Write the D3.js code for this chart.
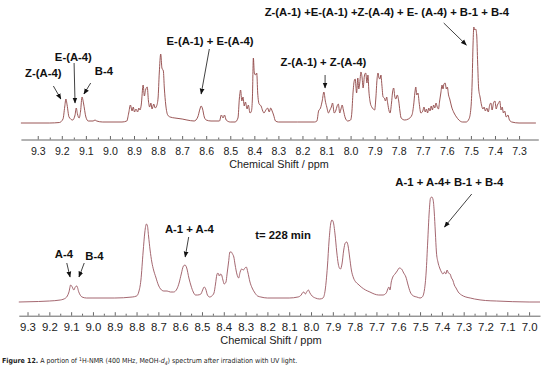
<!DOCTYPE html>
<html>
<head>
<meta charset="utf-8">
<script src="https://cdn.jsdelivr.net/npm/d3@7/dist/d3.min.js"></script>
<style>
body { margin: 0; background: #fff; }
svg { display: block; }
</style>
</head>
<body>
<svg id="svg"></svg>
<script>
var width = 544, height = 375;

// spectrum before: [ppm, intensity]
var topSpectrum = [
	[9.37,0],[9.25,0],[9.21,0.5],[9.195,4],[9.188,16],[9.183,24],[9.178,18],[9.17,6],[9.155,3],[9.145,8],[9.14,15],[9.135,9],
	[9.128,5],[9.122,12],[9.116,26],[9.11,20],[9.10,6],[9.09,2],[9.07,2],[9.062,3],[9.055,2],[9.03,1],[8.95,1],[8.93,2],
	[8.922,10],[8.915,18],[8.908,12],[8.903,16],[8.898,11],[8.892,14],[8.885,11],[8.88,15],[8.875,13],[8.87,18],[8.862,38],
	[8.857,27],[8.852,33],[8.845,36],[8.84,22],[8.835,16],[8.83,20],[8.825,14],[8.818,19],[8.812,15],[8.806,17],[8.80,25],
	[8.795,50],[8.789,69],[8.784,55],[8.778,52],[8.774,35],[8.768,18],[8.76,8],[8.75,6],[8.73,5],[8.70,4],[8.68,3],[8.65,2],
	[8.635,6],[8.626,14],[8.621,17],[8.615,14],[8.608,6],[8.60,3],[8.58,2],[8.545,2],[8.537,8],[8.53,5],[8.524,8],[8.517,3],
	[8.50,1],[8.48,1],[8.468,5],[8.462,25],[8.457,33],[8.452,22],[8.447,26],[8.442,17],[8.437,21],[8.43,14],[8.425,18],
	[8.418,10],[8.412,12],[8.408,25],[8.404,65],[8.40,50],[8.395,48],[8.39,50],[8.386,30],[8.38,19],[8.372,17],[8.365,12],
	[8.36,10],[8.352,13],[8.345,15],[8.338,11],[8.332,15],[8.326,12],[8.32,8],[8.312,2],[8.30,1],[8.22,1],[8.15,1],[8.14,2],
	[8.133,12],[8.125,15],[8.118,22],[8.111,31],[8.105,22],[8.099,16],[8.092,10],[8.086,13],[8.08,16],[8.075,20],[8.068,10],
	[8.062,12],[8.056,17],[8.051,19],[8.045,10],[8.04,14],[8.035,18],[8.03,13],[8.022,5],[8.012,2],[8.00,3],[7.995,10],
	[7.99,30],[7.985,42],[7.981,44],[7.975,30],[7.97,45],[7.966,34],[7.962,40],[7.957,51],[7.952,45],[7.948,35],[7.942,48],
	[7.937,50],[7.932,40],[7.928,48],[7.924,32],[7.918,20],[7.912,16],[7.906,14],[7.90,13],[7.895,25],[7.89,44],[7.886,50],
	[7.882,45],[7.878,44],[7.874,48],[7.87,38],[7.865,26],[7.86,25],[7.855,22],[7.85,26],[7.846,20],[7.84,12],[7.836,10],
	[7.83,20],[7.826,30],[7.821,35],[7.816,26],[7.812,24],[7.806,28],[7.80,22],[7.795,12],[7.79,5],[7.775,3],[7.76,4],
	[7.745,8],[7.738,18],[7.733,30],[7.729,36],[7.725,28],[7.72,30],[7.715,20],[7.708,10],[7.70,12],[7.695,16],[7.69,11],
	[7.685,14],[7.68,10],[7.675,15],[7.67,12],[7.665,17],[7.66,13],[7.655,18],[7.65,15],[7.645,20],[7.64,16],[7.635,14],
	[7.63,22],[7.625,30],[7.62,38],[7.616,34],[7.612,39],[7.607,40],[7.602,34],[7.598,36],[7.593,28],[7.588,24],[7.58,16],
	[7.57,10],[7.56,6],[7.55,3],[7.535,1],[7.52,1],[7.508,4],[7.50,15],[7.495,40],[7.491,80],[7.488,96],[7.484,93],
	[7.48,94],[7.476,88],[7.472,60],[7.468,35],[7.462,26],[7.456,18],[7.45,14],[7.445,16],[7.44,12],[7.434,15],[7.428,11],
	[7.422,18],[7.417,20],[7.412,13],[7.406,20],[7.40,22],[7.395,14],[7.39,18],[7.385,20],[7.38,22],[7.375,13],[7.37,16],
	[7.365,10],[7.36,12],[7.353,6],[7.346,8],[7.34,3],[7.33,1],[7.30,0],[7.23,0]
];

// spectrum after 228 min
var bottomSpectrum = [
	[9.34,0],[9.25,0.5],[9.2,1],[9.15,2],[9.125,4],[9.11,10],[9.102,17],[9.095,15],[9.088,12],[9.081,15],[9.074,16],[9.065,10],
	[9.05,5],[9.03,4],[9.0,4],[8.9,4],[8.82,5],[8.80,6],[8.79,10],[8.78,22],[8.77,50],[8.762,70],[8.755,78],[8.75,76],
	[8.745,66],[8.738,52],[8.73,40],[8.722,32],[8.712,25],[8.70,17],[8.69,13],[8.675,11],[8.66,11],[8.645,10],[8.63,10],
	[8.615,13],[8.605,19],[8.595,28],[8.585,36],[8.578,37],[8.57,34],[8.56,24],[8.55,16],[8.54,10],[8.53,7],[8.52,7],
	[8.505,8],[8.497,12],[8.49,15],[8.483,13],[8.475,7],[8.465,5],[8.455,6],[8.445,9],[8.438,18],[8.432,27],[8.427,29],
	[8.42,26],[8.415,28],[8.41,27],[8.404,22],[8.398,18],[8.39,20],[8.385,28],[8.378,40],[8.372,50],[8.366,50],[8.36,48],
	[8.354,45],[8.348,37],[8.34,28],[8.332,24],[8.325,30],[8.318,33],[8.31,32],[8.303,34],[8.297,35],[8.29,30],[8.28,20],
	[8.27,14],[8.26,10],[8.245,6],[8.23,5],[8.2,4],[8.1,4],[8.06,5],[8.045,7],[8.04,9],[8.033,10],[8.026,8],[8.02,10],
	[8.012,12],[8.005,9],[7.995,6],[7.98,4],[7.96,3],[7.945,4],[7.935,12],[7.925,35],[7.917,62],[7.91,78],[7.904,82],
	[7.898,80],[7.89,68],[7.882,50],[7.875,38],[7.87,34],[7.865,33],[7.858,38],[7.85,52],[7.843,59],[7.836,60],[7.83,56],
	[7.823,45],[7.815,32],[7.805,24],[7.795,20],[7.785,18],[7.77,15],[7.75,12],[7.73,10],[7.71,8],[7.69,7],[7.67,7],
	[7.655,9],[7.648,13],[7.643,15],[7.638,12],[7.632,20],[7.625,25],[7.615,28],[7.605,31],[7.595,34],[7.585,33],[7.575,29],
	[7.565,25],[7.555,17],[7.545,10],[7.53,6],[7.515,5],[7.5,4],[7.49,5],[7.48,12],[7.472,30],[7.465,60],[7.458,90],
	[7.452,104],[7.446,105],[7.44,102],[7.435,90],[7.43,70],[7.425,50],[7.418,40],[7.41,34],[7.402,30],[7.395,28],[7.388,30],
	[7.382,28],[7.376,32],[7.37,29],[7.362,28],[7.356,24],[7.35,22],[7.343,17],[7.335,14],[7.325,10],[7.31,7],[7.29,5],
	[7.27,4],[7.25,3],[7.2,1.5],[7.15,1],[7.0,0],[6.95,0]
];

var topTicks = [9.3, 9.2, 9.1, 9.0, 8.9, 8.8, 8.7, 8.6, 8.5, 8.4, 8.3, 8.2, 8.1, 8.0, 7.9, 7.8, 7.7, 7.6, 7.5, 7.4, 7.3];
var bottomTicks = [9.3, 9.2, 9.1, 9.0, 8.9, 8.8, 8.7, 8.6, 8.5, 8.4, 8.3, 8.2, 8.1, 8.0, 7.9, 7.8, 7.7, 7.6, 7.5, 7.4, 7.3, 7.2, 7.1, 7.0];

// annotations: label, text anchor [ppm, int], arrow from/to [ppm, int]
var topLabels = [
	{text: "Z-(A-4)", at: [9.277, 50], from: [9.235, 37], to: [9.204, 24]},
	{text: "E-(A-4)", at: [9.152, 66], from: [9.149, 60], to: [9.145, 20]},
	{text: "B-4", at: [9.025, 52], from: [9.080, 40], to: [9.108, 29]},
	{text: "E-(A-1) + E-(A-4)", at: [8.584, 82], from: [8.587, 74], to: [8.621, 29]},
	{text: "Z-(A-1) + Z-(A-4)", at: [8.113, 61], from: [8.106, 48], to: [8.106, 35]},
	{text: "Z-(A-1) +E-(A-1) +Z-(A-4) + E- (A-4) + B-1 + B-4", at: [7.849, 111], from: [7.613, 100], to: [7.519, 78]}
];
var bottomLabels = [
	{text: "A-4", at: [9.133, 48], from: [9.120, 39], to: [9.105, 25]},
	{text: "B-4", at: [8.993, 46], from: [9.040, 39], to: [9.064, 25]},
	{text: "A-1 + A-4", at: [8.558, 73], from: [8.561, 65], to: [8.577, 45]},
	{text: "t= 228 min", at: [8.128, 67]},
	{text: "A-1 + A-4+ B-1 + B-4", at: [7.366, 120], from: [7.263, 108], to: [7.388, 75]}
];

var svg = d3.select("#svg")
	.attr("width", width)
	.attr("height", height)
	.attr("font-family", "'Liberation Sans', Arial, sans-serif");

svg.append("rect").attr("width", width).attr("height", height).attr("fill", "#fff");

var defs = svg.append("defs");
defs.append("marker")
	.attr("id", "head")
	.attr("viewBox", "0 0 10 10")
	.attr("refX", 9).attr("refY", 5)
	.attr("markerWidth", 6).attr("markerHeight", 6)
	.attr("markerUnits", "userSpaceOnUse")
	.attr("orient", "auto")
	.append("path")
	.attr("d", "M0,1L10,5L0,9Z")
	.attr("fill", "#111");

function panel(cfg)
{
	var x = d3.scaleLinear().domain(cfg.xDomain).range(cfg.xRange);
	var y = d3.scaleLinear().domain([0, 100]).range(cfg.yRange);

	var line = d3.line()
		.x(function(d) { return x(d[0]); })
		.y(function(d) { return y(d[1]); })
		.curve(d3.curveMonotoneX);

	svg.append("path")
		.datum(cfg.data)
		.attr("d", line)
		.attr("fill", "none")
		.attr("stroke", cfg.color)
		.attr("stroke-width", 0.9);

	// minor ticks
	var minor = [];
	for (var i = 0; i < cfg.ticks.length - 1; i++) minor.push(cfg.ticks[i] - 0.05);
	svg.append("g")
		.attr("transform", "translate(0," + cfg.axisY + ")")
		.call(d3.axisBottom(x).tickValues(minor).tickSizeInner(-2).tickSizeOuter(0).tickFormat(""))
		.call(function(g) { g.select(".domain").remove(); })
		.selectAll("line").attr("stroke", "#666");

	var ax = svg.append("g")
		.attr("transform", "translate(0," + cfg.axisY + ")")
		.call(d3.axisBottom(x).tickValues(cfg.ticks).tickSizeInner(-3.5).tickSizeOuter(0)
			.tickPadding(cfg.pad).tickFormat(d3.format(".1f")));
	ax.select(".domain").attr("stroke", "#666");
	ax.selectAll(".tick line").attr("stroke", "#666");
	ax.selectAll("text")
		.attr("font-size", cfg.tickFont)
		.attr("font-family", "'Liberation Sans', Arial, sans-serif")
		.attr("fill", "#222");

	svg.append("text")
		.attr("x", cfg.titleX)
		.attr("y", cfg.titleY)
		.attr("text-anchor", "middle")
		.attr("font-size", cfg.titleFont)
		.attr("fill", "#222")
		.text("Chemical Shift / ppm");

	cfg.labels.forEach(function(l) {
		svg.append("text")
			.attr("x", x(l.at[0]))
			.attr("y", y(l.at[1]))
			.attr("dy", "0.36em")
			.attr("text-anchor", "middle")
			.attr("font-size", 11.3)
			.attr("font-weight", "bold")
			.attr("fill", "#111")
			.text(l.text);
		if (l.from) {
			svg.append("line")
				.attr("x1", x(l.from[0])).attr("y1", y(l.from[1]))
				.attr("x2", x(l.to[0])).attr("y2", y(l.to[1]))
				.attr("stroke", "#111")
				.attr("stroke-width", 0.8)
				.attr("marker-end", "url(#head)");
		}
	});
}

panel({
	data: topSpectrum, ticks: topTicks, labels: topLabels,
	xDomain: [9.37, 7.22], xRange: [20.9, 538.3], yRange: [123, 23],
	axisY: 139.5, pad: 7.5, tickFont: 10.6, color: "#8e4444",
	titleX: 279, titleY: 168, titleFont: 10.8
});

panel({
	data: bottomSpectrum, ticks: bottomTicks, labels: bottomLabels,
	xDomain: [9.34, 6.95], xRange: [18.8, 540], yRange: [302, 202],
	axisY: 315.7, pad: 7.5, tickFont: 11.4, color: "#9a5660",
	titleX: 271, titleY: 344, titleFont: 11
});

var cap = svg.append("text")
	.attr("x", 2)
	.attr("y", 363)
	.attr("font-size", 7)
	.attr("font-family", "'DejaVu Sans Condensed', 'Liberation Sans Narrow', sans-serif")
	.attr("fill", "#222");
cap.append("tspan").attr("font-weight", "bold").text("Figure 12.");
cap.append("tspan").text(" A portion of ");
cap.append("tspan").attr("font-size", 5).attr("dy", -2.5).text("1");
cap.append("tspan").attr("dy", 2.5).text("H-NMR (400 MHz, MeOH-");
cap.append("tspan").attr("font-style", "italic").text("d");
cap.append("tspan").attr("font-size", 5).attr("font-style", "italic").attr("dy", 1.5).text("4");
cap.append("tspan").attr("dy", -1.5).text(") spectrum after irradiation with UV light.");
</script>
</body>
</html>
